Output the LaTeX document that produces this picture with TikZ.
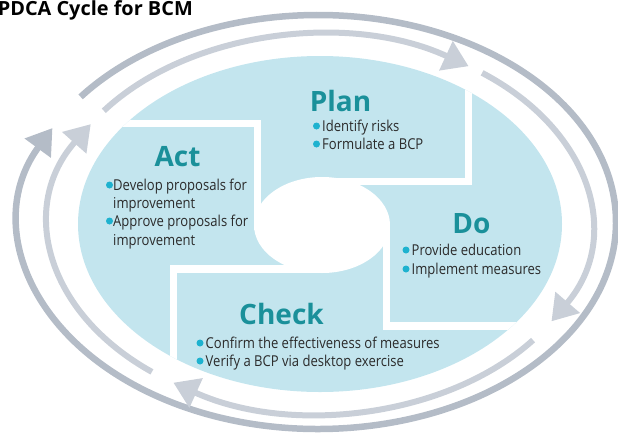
\documentclass[tikz,border=0pt]{standalone}
\usepackage{fontspec}
\usetikzlibrary{arrows.meta}
\newfontfamily\headfont{Open Sans}
\newfontfamily\titlefont{Open Sans}[FakeStretch=1.02]
\newfontfamily\bodyfont{Open Sans}[FakeStretch=0.87]
\definecolor{fillblue}{HTML}{C3E5EE}
\definecolor{ringout}{HTML}{B4BCC7}
\definecolor{ringin}{HTML}{C9CFD8}
\definecolor{headteal}{HTML}{1A909A}
\definecolor{dotcyan}{HTML}{1EB2CF}
\definecolor{txtgray}{HTML}{2B2B2B}
\tikzset{
  outring/.style={draw=ringout, line width=6.5pt},
  inring/.style={draw=ringin, line width=6pt},
  bigtip/.style={-{Triangle[length=25pt,width=31pt]}},
  cut/.style={draw=white, line width=7.5pt, line join=miter},
  heading/.style={anchor=base, inner sep=0pt, text=headteal, font=\headfont\bfseries\fontsize{28}{30}\selectfont},
  bullettext/.style={anchor=base west, inner sep=0pt, text=txtgray, font=\bodyfont\fontsize{15}{17}\selectfont},
  bulletdot/.style={fill=dotcyan},
  titletext/.style={anchor=base east, inner sep=0pt, text=black, font=\titlefont\bfseries\fontsize{19.5}{21}\selectfont}
}
\begin{document}
\begin{tikzpicture}[x=1pt,y=-1pt]
\useasboundingbox (0,0) rectangle (618,434);
% title
\node[titletext] (title) at (193,15) {PDCA Cycle for BCM};
% outer ring
\draw[outring,bigtip] (318,222) ++(217.2:298 and 207) arc[start angle=217.2, end angle=567, x radius=298, y radius=207];
% inner ring arcs
\draw[inring,bigtip] (320,224) ++(216.8:270 and 189) arc[start angle=216.8, end angle=303.4, x radius=270, y radius=189];
\draw[inring,bigtip] (320,224) ++(306.9:270 and 189) arc[start angle=306.9, end angle=391, x radius=270, y radius=189];
\draw[inring,bigtip] (320,224) ++(37.9:270 and 189) arc[start angle=37.9, end angle=122.9, x radius=270, y radius=189];
\draw[inring,bigtip] (320,224) ++(128.5:270 and 189) arc[start angle=128.5, end angle=211.9, x radius=270, y radius=189];
% filled ellipse
\fill[fillblue] (320,224) ellipse [x radius=242, y radius=168];
\begin{scope}
\clip (320,224) ellipse [x radius=242, y radius=168];
\draw[cut] (60,123.5) -- (257.5,123.5) -- (257.5,230);
\draw[cut] (468.5,30) -- (468.5,181.5) -- (320,181.5);
\draw[cut] (600,326) -- (386.5,326) -- (386.5,225);
\draw[cut] (173.5,420) -- (173.5,269) -- (320,269);
\end{scope}
\fill[white] (322,225) ellipse [x radius=68, y radius=48];
% headings
\node[heading] (plan) at (340.5,111) {Plan};
\node[heading] (act) at (177.5,166) {Act};
\node[heading] (do) at (471.5,233) {Do};
\node[heading] (check) at (281.5,324) {Check};
% Plan bullets
\fill[bulletdot] (316.5,126) circle (3.5);
\node[bullettext] (p1) at (322,131) {Identify risks};
\fill[bulletdot] (316.5,144) circle (3.5);
\node[bullettext] (p2) at (322,149) {Formulate a BCP};
% Act bullets
\fill[bulletdot] (109.5,185) circle (3.5);
\node[bullettext] (a1) at (113,190) {Develop proposals for};
\node[bullettext] (a2) at (113,208) {improvement};
\fill[bulletdot] (109.5,221) circle (3.5);
\node[bullettext] (a3) at (113,226) {Approve proposals for};
\node[bullettext] (a4) at (113,245) {improvement};
% Do bullets
\fill[bulletdot] (406,250) circle (3.5);
\node[bullettext] (d1) at (411.5,255) {Provide education};
\fill[bulletdot] (406,269) circle (3.5);
\node[bullettext] (d2) at (411.5,274) {Implement measures};
% Check bullets
\fill[bulletdot] (200,343) circle (3.5);
\node[bullettext] (c1) at (205.5,348) {Confirm the effectiveness of measures};
\fill[bulletdot] (200,361) circle (3.5);
\node[bullettext] (c2) at (205.5,366) {Verify a BCP via desktop exercise};
\end{tikzpicture}
\end{document}
